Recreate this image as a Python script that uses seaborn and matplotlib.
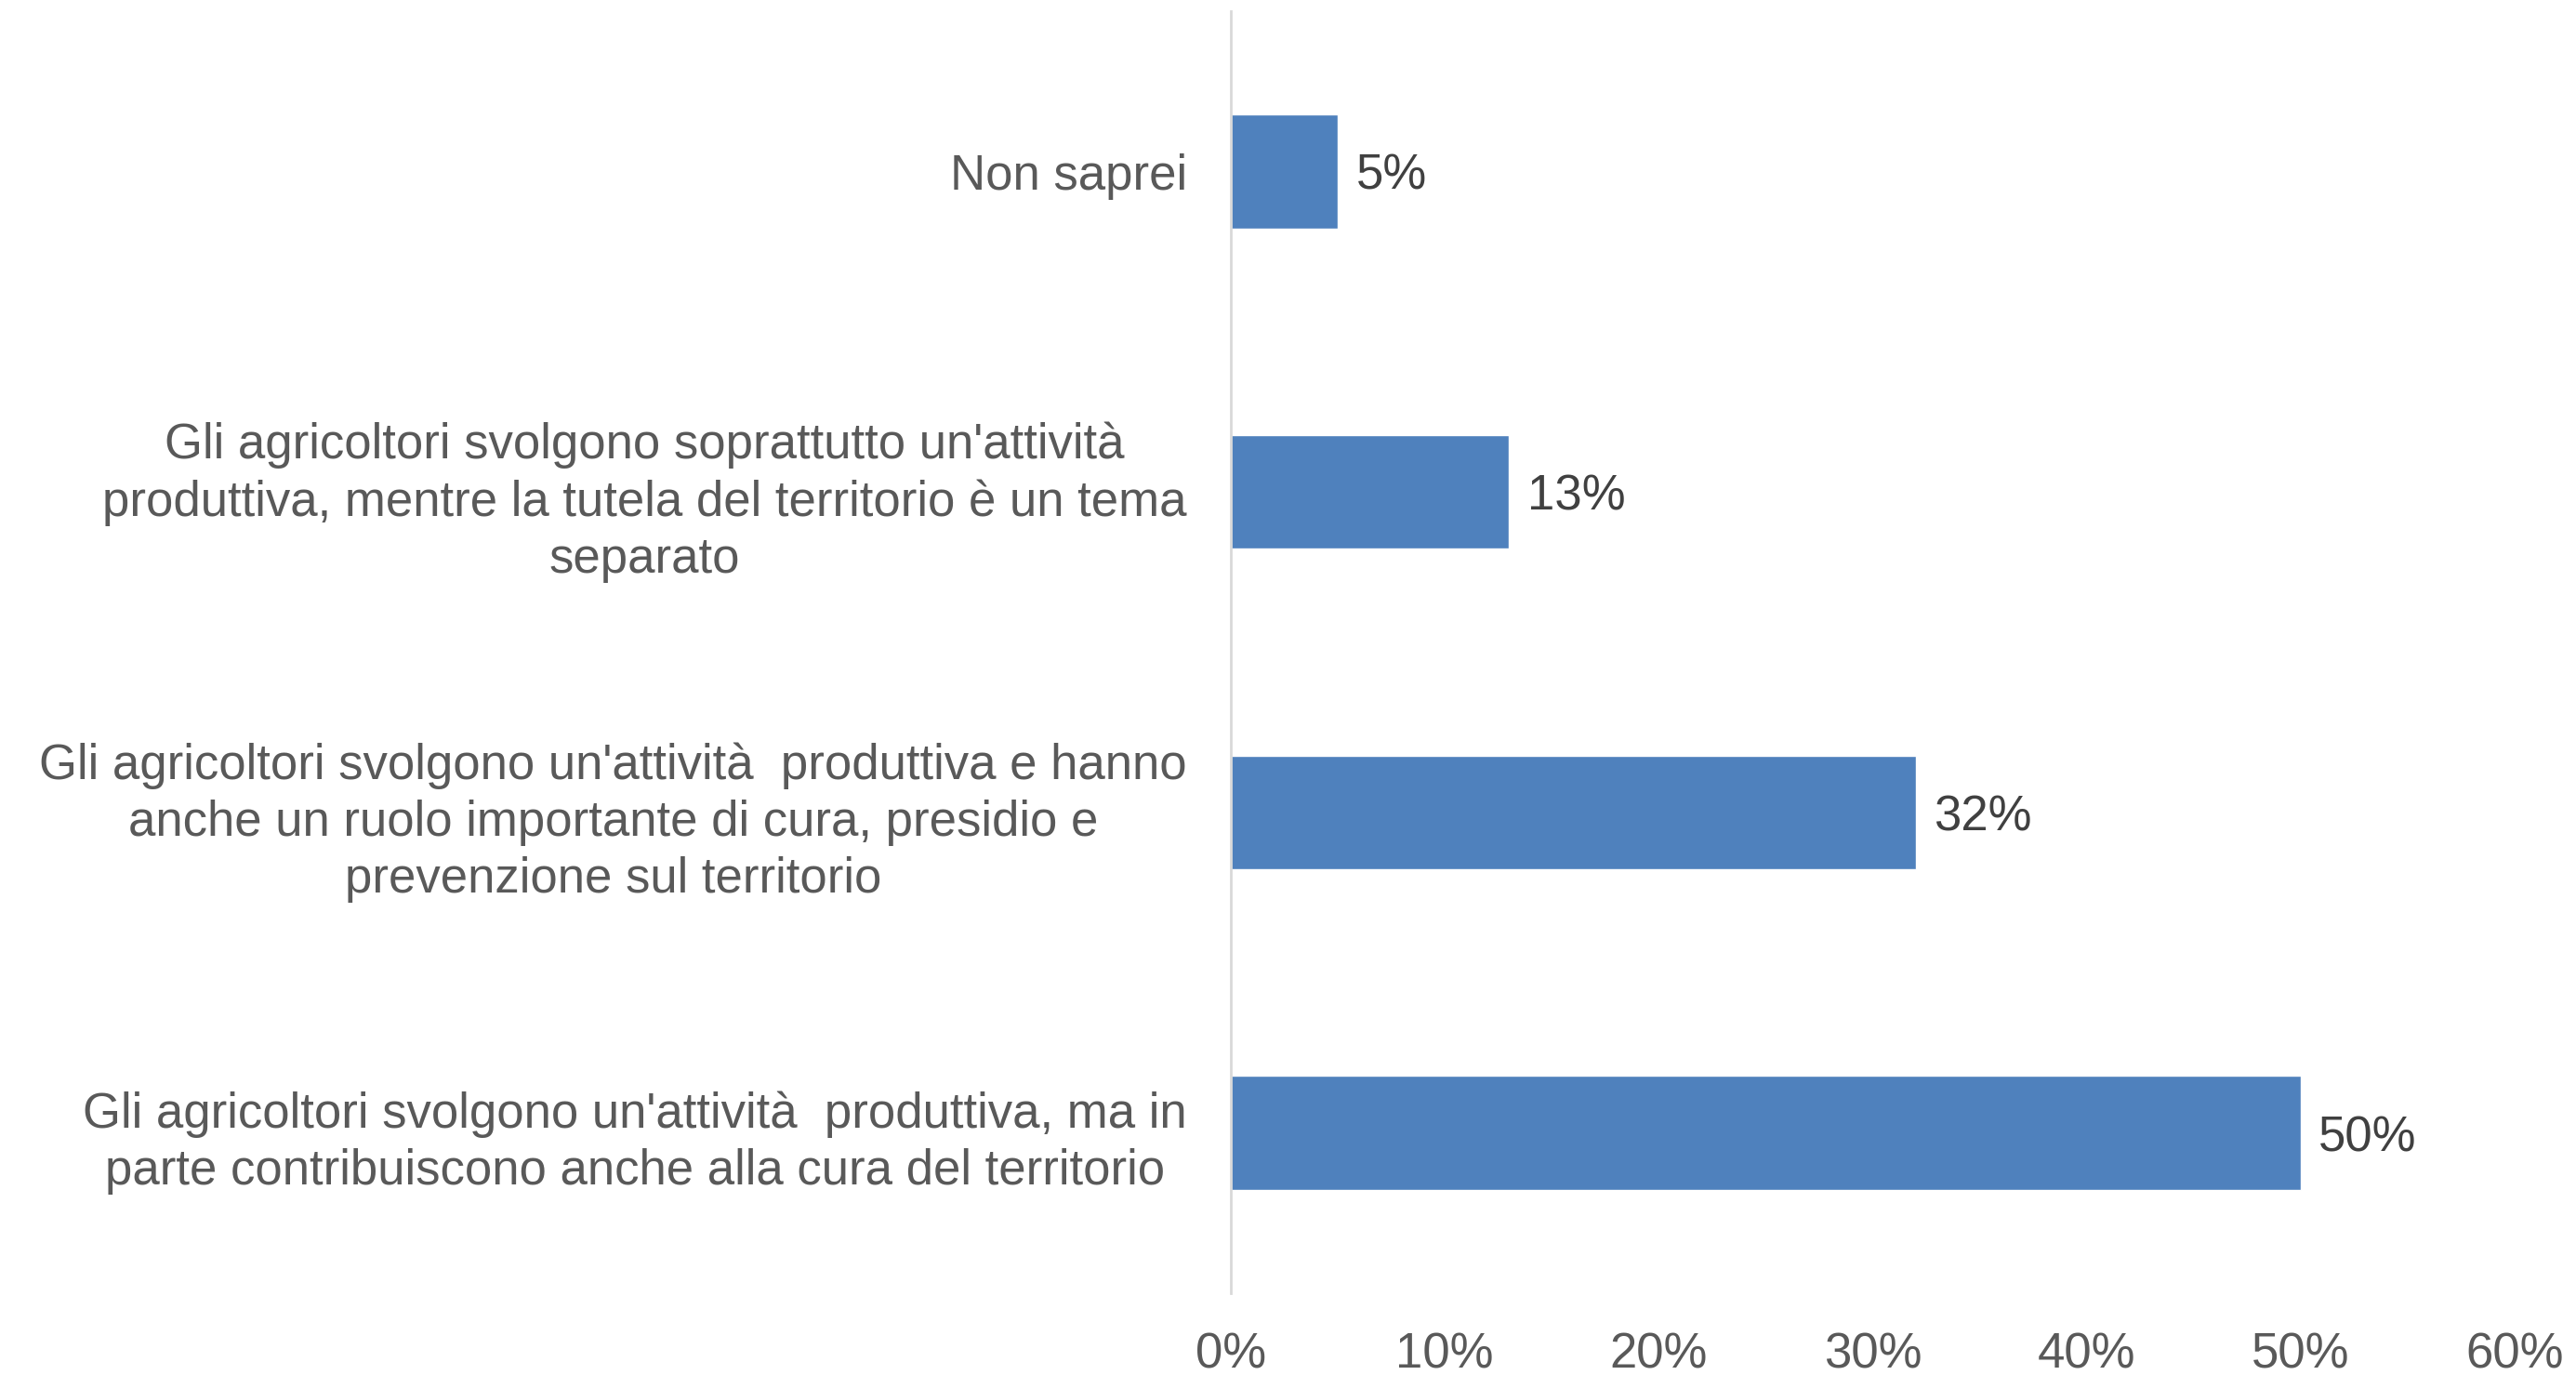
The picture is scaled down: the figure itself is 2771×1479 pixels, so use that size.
import matplotlib
matplotlib.use("Agg")
import matplotlib.pyplot as plt
import seaborn as sns
import pandas as pd
from matplotlib.ticker import FuncFormatter

categories = [
    "Non saprei",
    "Gli agricoltori svolgono soprattutto un'attività\nproduttiva, mentre la tutela del territorio è un tema\nseparato",
    "Gli agricoltori svolgono un'attività  produttiva e hanno\nanche un ruolo importante di cura, presidio e\nprevenzione sul territorio",
    "Gli agricoltori svolgono un'attività  produttiva, ma in\nparte contribuiscono anche alla cura del territorio",
]
values = [5, 13, 32, 50]
x_ticks = [0, 10, 20, 30, 40, 50, 60]

sns.set_theme(style="white")
plt.rcParams["font.family"] = ["Liberation Sans", "DejaVu Sans"]

df = pd.DataFrame({"categoria": categories, "valore": values})

fig = plt.figure(figsize=(27.71, 14.79), dpi=100)
ax = fig.add_axes([0.4778, 0.0595, 0.9762 - 0.4778, 0.9919 - 0.0595])

sns.barplot(data=df, y="categoria", x="valore", orient="h", color="#4F81BD",
            saturation=1, width=0.356, ax=ax)

ax.set_xlim(0, 60)
ax.set_xticks(x_ticks)
ax.xaxis.set_major_formatter(FuncFormatter(lambda v, p: f"{v:.0f}%"))
ax.set_xlabel("")
ax.set_ylabel("")

for side in ["top", "right", "bottom"]:
    ax.spines[side].set_visible(False)
ax.spines["left"].set_color("#D9D9D9")
ax.spines["left"].set_linewidth(2)

ax.tick_params(axis="x", length=0, pad=30, labelsize=38, labelcolor="#595959")
ax.tick_params(axis="y", length=0, pad=34, labelsize=38, labelcolor="#595959")
for lbl in ax.get_yticklabels():
    lbl.set_multialignment("center")
    lbl.set_linespacing(1.28)

texts = ax.bar_label(ax.containers[0], labels=[f"{v}%" for v in values],
                     padding=14, fontsize=38, color="#404040")
for t in texts:
    t.set_verticalalignment("center_baseline")

fig.savefig("out.png", dpi=100, facecolor="white")
